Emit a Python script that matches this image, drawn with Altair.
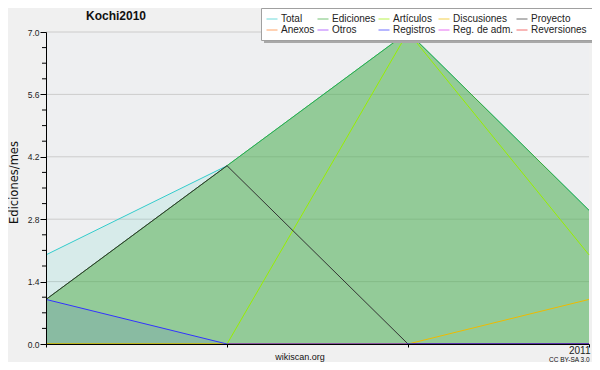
import altair as alt
import pandas as pd

# ---- data ----
meses = ["2010-10", "2010-11", "2010-12", "2011-01"]
etiquetas_x = ["", "", "", "2011"]
series = ["Total", "Ediciones", "Artículos", "Discusiones", "Proyecto",
          "Anexos", "Otros", "Registros", "Reg. de adm.", "Reversiones"]
total = [2, 4, 7, 3]
ediciones = [1, 4, 7, 3]
articulos = [0, 0, 7, 2]
discusiones = [0, 0, 0, 1]
proyecto = [1, 4, 0, 0]
anexos = [0, 0, 0, 0]
otros = [0, 0, 0, 0]
registros = [1, 0, 0, 0]
reg_adm = [0, 0, 0, 0]
reversiones = [0, 0, 0, 0]
colores = ["#33cccc", "#3aaa3a", "#99ee00", "#eebb00", "#333333",
           "#ff7f2a", "#9933ff", "#3333ff", "#dd33ee", "#ee3333"]
y_mayores = [0.0, 1.4, 2.8, 4.2, 5.6, 7.0]
y_menores = [0.35, 0.7, 1.05, 1.75, 2.1, 2.45, 3.15, 3.5, 3.85,
             4.55, 4.9, 5.25, 5.95, 6.3, 6.65]
titulo = "Kochi2010"
titulo_y = "Ediciones/mes"
pie = "wikiscan.org"
licencia = "CC BY-SA 3.0"

valores = [total, ediciones, articulos, discusiones, proyecto,
           anexos, otros, registros, reg_adm, reversiones]
rows = []
for s, vals in zip(series, valores):
    for m, v in zip(meses, vals):
        rows.append({"serie": s, "mes": m, "valor": v})
df = pd.DataFrame(rows)

W, H = 543, 312
FONT = "Liberation Sans"

label_expr = ""
for m, e in zip(meses, etiquetas_x):
    label_expr += f"datum.value == '{m}' ? '{e}' : "
label_expr += "''"

x_enc = alt.X("mes:O", sort=meses,
              scale=alt.Scale(type="point", domain=meses, padding=0),
              axis=alt.Axis(title=None, labelExpr=label_expr, labelAngle=0,
                            labelFont=FONT, labelFontSize=10, labelColor="#222",
                            labelAlign="right", labelOffset=1,
                            labelPadding=-2, tickSize=3,
                            tickColor="#000", domainColor="#000", grid=False,
                            zindex=1))
y_scale = alt.Scale(domain=[0, 7], nice=False, zero=True)
y_enc = alt.Y("valor:Q", scale=y_scale,
              axis=alt.Axis(title=None, values=y_mayores, format=".1f",
                            labelFont=FONT, labelFontSize=8.5, labelColor="#222",
                            labelPadding=1, tickSize=6, tickColor="#000",
                            domainColor="#000", grid=False, zindex=1))

color_scale = alt.Scale(domain=series, range=colores)
legend = alt.Legend(orient="none", legendX=215, legendY=-24, direction="horizontal",
                    columns=5, title=None, symbolType="stroke", symbolSize=121,
                    symbolStrokeWidth=1, symbolOpacity=0.7,
                    labelFont=FONT, labelFontSize=10, labelColor="#222",
                    labelOffset=3, columnPadding=0, rowPadding=0, padding=5,
                    fillColor="white", strokeColor="#a0a0a0", labelLimit=0)

base = alt.Chart(df)

grid = alt.Chart(pd.DataFrame({"valor": y_mayores[1:]})).mark_rule(
    color="#cccccc", strokeWidth=1).encode(
    y=alt.Y("valor:Q", scale=y_scale), x=alt.value(0), x2=alt.value(W))

minor = alt.Chart(pd.DataFrame({"valor": y_menores})).mark_rule(
    color="#000", strokeWidth=1).encode(
    y=alt.Y("valor:Q", scale=y_scale), x=alt.value(-4), x2=alt.value(0))

area_total = base.transform_filter(alt.datum.serie == "Total").mark_area(
    color="#40d0c0", opacity=0.13).encode(x=x_enc, y=y_enc)
area_ed = base.transform_filter(alt.datum.serie == "Ediciones").mark_area(
    color="#4fab45", opacity=0.5).encode(x=x_enc, y=y_enc)
area_reg = base.transform_filter(alt.datum.serie == "Registros").mark_area(
    color="#3333ff", opacity=0.1).encode(x=x_enc, y=y_enc)

orden = ["Anexos", "Otros", "Reg. de adm.", "Reversiones", "Total", "Ediciones",
         "Discusiones", "Artículos", "Proyecto", "Registros"]
lineas = []
for s in orden:
    lineas.append(base.transform_filter(alt.datum.serie == s).mark_line(
        strokeWidth=1).encode(
        x=x_enc, y=y_enc,
        color=alt.Color("serie:N", scale=color_scale, legend=legend)))

# legend drop shadow (decoration)
sombra = alt.Chart(pd.DataFrame({"k": [0]})).mark_rect(color="#a8a8a8").encode(
    x=alt.value(218), x2=alt.value(548), y=alt.value(-21), y2=alt.value(11))

def texto(t, x, y, size, bold=False, align="left", angle=0, font=FONT):
    return alt.Chart(pd.DataFrame({"t": [t]})).mark_text(
        font=font, fontSize=size, fontWeight="bold" if bold else "normal",
        color="#111", align=align, baseline="middle", angle=angle).encode(
        text="t:N", x=alt.value(x), y=alt.value(y))

textos = [
    texto(titulo, 40, -16, 12, bold=True),
    texto(titulo_y, -31, 150.5, 11.5, align="center", angle=270, font="DejaVu Sans"),
    texto(pie, 254, 325, 9, align="center"),
    texto(licencia, 503, 327.5, 6.5),
]

chart = alt.layer(grid, minor, area_total, area_ed, area_reg, *lineas, sombra,
                  *textos).properties(
    width=W, height=H,
    padding={"left": 38, "top": 24, "right": 3, "bottom": 18},
    autosize="none",
).configure(
    background="#f0f0f0", font=FONT
).configure_view(fill="#eeeff1", stroke=None)

chart.save("out.html", embed_options={"renderer": "svg", "actions": False})
